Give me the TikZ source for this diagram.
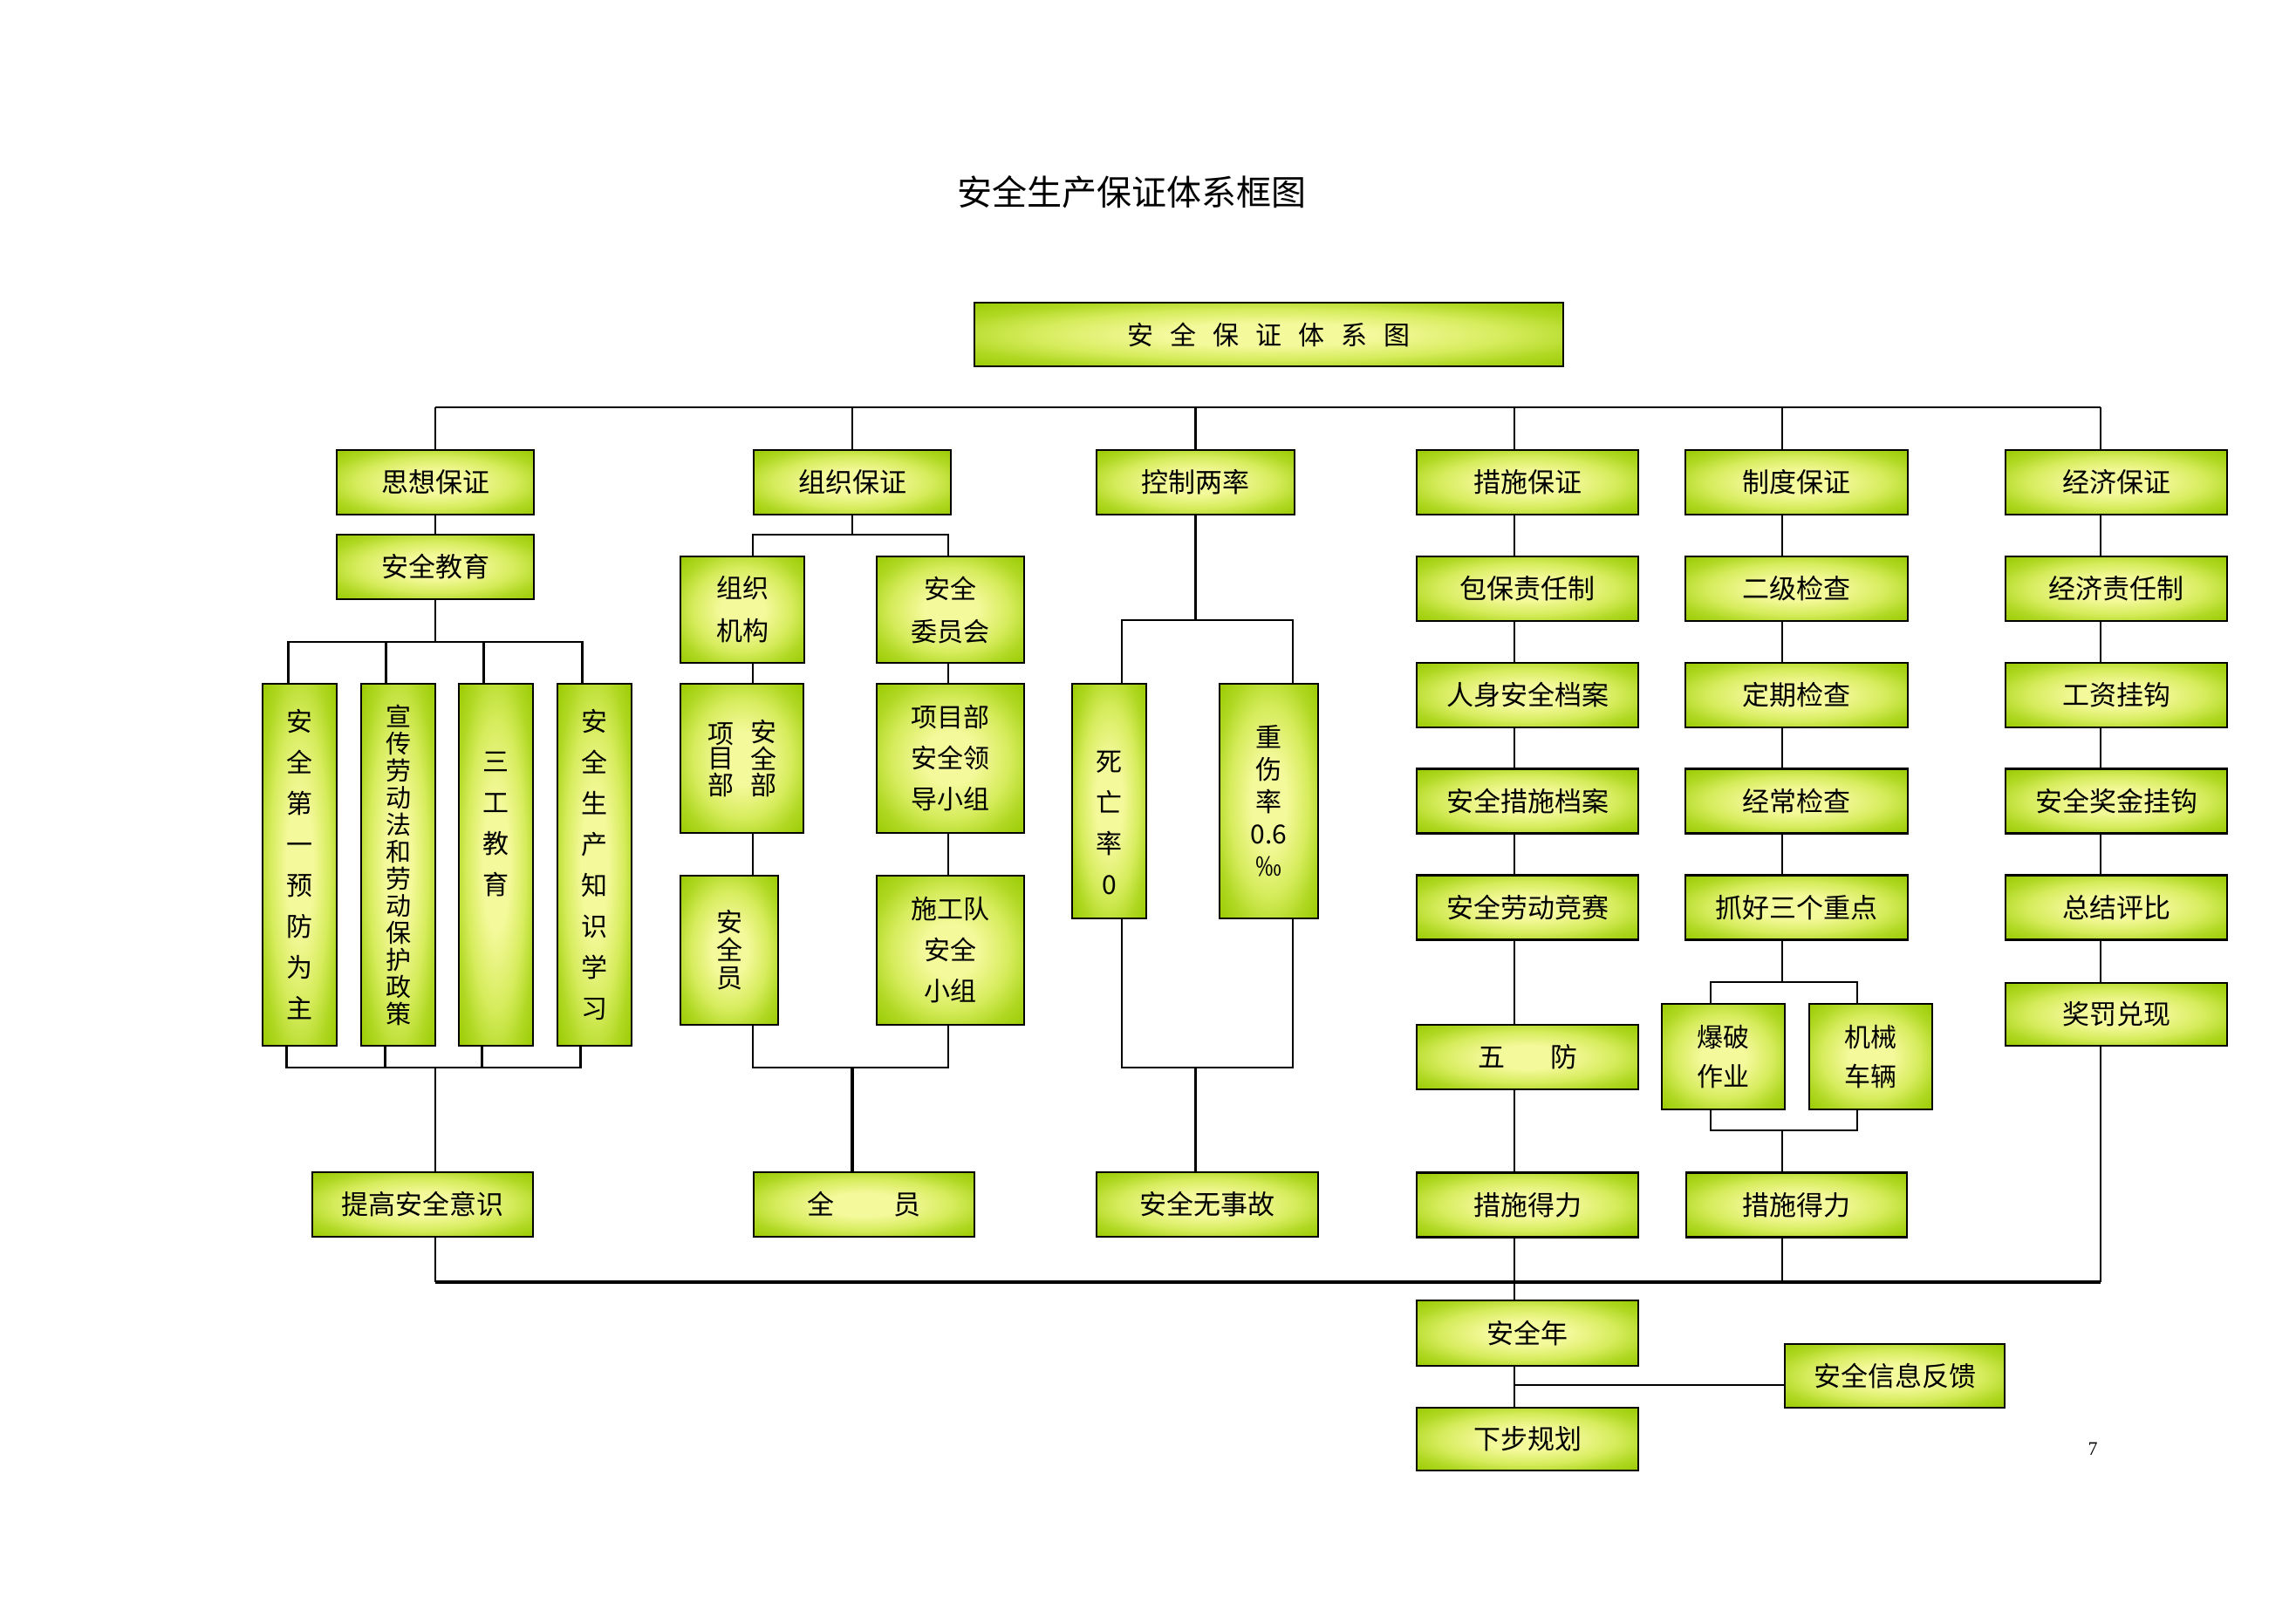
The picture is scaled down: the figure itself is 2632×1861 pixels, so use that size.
\documentclass[tikz,border=0pt]{standalone}
\usepackage{fontspec}
\setmainfont{Noto Sans CJK SC}
\newfontfamily\pnfont{Liberation Serif}
\definecolor{gIn}{RGB}{244,249,155}
\definecolor{gMidA}{RGB}{214,236,92}
\definecolor{gMidB}{RGB}{176,216,35}
\definecolor{gOut}{RGB}{152,202,0}
\pgfdeclareradialshading{gshade}{\pgfpoint{0bp}{0bp}}{color(0bp)=(gIn); color(9bp)=(gIn); color(20bp)=(gMidA); color(28bp)=(gMidB); color(36bp)=(gOut); color(50bp)=(gOut)}
\tikzset{
  gbox/.style={draw=black, line width=2.5pt, shading=gshade, inner sep=0pt, align=center,
    font=\fontsize{31pt}{38pt}\selectfont},
  rowbox/.style={gbox, minimum height=74pt},
  ln/.style={line width=2.5pt},
  lnT/.style={line width=3.5pt},
  vA/.style={font=\fontsize{30pt}{47pt}\selectfont},
  vB/.style={font=\fontsize{29pt}{31pt}\selectfont},
}
\begin{document}
\begin{tikzpicture}[x=1pt,y=-1pt]
\useasboundingbox (0,0) rectangle (2632,1861);

% title
\node[font=\fontsize{40pt}{48pt}\selectfont] (title) at (1297,220) {安全生产保证体系框图};
\node[gbox, minimum width=675pt, minimum height=73pt, font=\fontsize{30pt}{36pt}\selectfont] (top) at (1454.5,383.5) {\spaceskip=19pt\relax 安 全 保 证 体 系 图};

% level 1
\node[rowbox, minimum width=226pt] (sx) at (499,553) {思想保证};
\node[rowbox, minimum width=226pt] (zz) at (977,553) {组织保证};
\node[rowbox, minimum width=227pt] (kz) at (1370.5,553) {控制两率};
\node[rowbox, minimum width=254pt] (cs) at (1751,553) {措施保证};
\node[rowbox, minimum width=255pt] (zd) at (2059.5,553) {制度保证};
\node[rowbox, minimum width=254pt] (jj) at (2426,553) {经济保证};

% column 1
\node[rowbox, minimum width=226pt] (aqjy) at (499,650) {安全教育};
\node[gbox, vA, minimum width=85pt, minimum height=415pt] (t1) at (343.5,991.5) {安\\全\\第\\一\\预\\防\\为\\主};
\node[gbox, vB, minimum width=85pt, minimum height=415pt] (t2) at (456.5,991.5) {宣\\传\\劳\\动\\法\\和\\劳\\动\\保\\护\\政\\策};
\node[gbox, vA, minimum width=85pt, minimum height=415pt, text depth=96pt] (t3) at (568.5,991.5) {三\\工\\教\\育};
\node[gbox, vA, minimum width=85pt, minimum height=415pt] (t4) at (681.5,991.5) {安\\全\\生\\产\\知\\识\\学\\习};
\node[rowbox, minimum width=253pt] (tg) at (484.5,1381) {提高安全意识};

% column 2
\node[gbox, font=\fontsize{30pt}{49pt}\selectfont, minimum width=142pt, minimum height=122pt] (zzjg) at (851,699) {组织\\机构};
\node[gbox, font=\fontsize{30pt}{49pt}\selectfont, minimum width=169pt, minimum height=122pt] (aqwyh) at (1089.5,699) {安全\\委员会};
\node[gbox, font=\fontsize{30pt}{33pt}\selectfont, minimum width=141pt, minimum height=171pt] (xmb) at (850.5,869.5) {\shortstack{项\\目\\部}\hspace{19pt}\shortstack{安\\全\\部}};
\node[gbox, vA, minimum width=169pt, minimum height=171pt] (xmld) at (1089.5,869.5) {项目部\\安全领\\导小组};
\node[gbox, font=\fontsize{30pt}{32pt}\selectfont, minimum width=112pt, minimum height=171pt] (aqy) at (836,1089.5) {安\\全\\员};
\node[gbox, vA, minimum width=169pt, minimum height=171pt] (sgd) at (1089.5,1089.5) {施工队\\安全\\小组};
\node[rowbox, minimum width=253pt] (qy) at (990.5,1381) {全\hspace{68pt}员};

% column 3
\node[gbox, vA, minimum width=85pt, minimum height=269pt, text height=214pt] (swl) at (1271.5,918.5) {死\\亡\\率\\0};
\node[gbox, font=\fontsize{30pt}{37pt}\selectfont, minimum width=113pt, minimum height=269pt] (zsl) at (1454.5,918.5) {重\\伤\\率\\0.6\\‰};
\node[rowbox, minimum width=254pt] (aqwsg) at (1384,1381) {安全无事故};

% column 4
\node[rowbox, minimum width=254pt] (bbzr) at (1751,675) {包保责任制};
\node[rowbox, minimum width=254pt] (rsaq) at (1751,797) {人身安全档案};
\node[rowbox, minimum width=254pt] (aqcs) at (1751,918.5) {安全措施档案};
\node[rowbox, minimum width=254pt] (aqld) at (1751,1040.5) {安全劳动竞赛};
\node[rowbox, minimum width=254pt] (wf) at (1751,1212) {五\hspace{52pt}防};
\node[rowbox, minimum width=254pt] (csdl1) at (1751,1381.5) {措施得力};
\node[rowbox, minimum width=254pt, minimum height=75pt] (aqn) at (1751,1528.5) {安全年};
\node[rowbox, minimum width=254pt, minimum height=72pt] (xbgh) at (1751,1650) {下步规划};
\node[rowbox, minimum width=252pt, minimum height=73pt] (aqxx) at (2172,1577.5) {安全信息反馈};

% column 5
\node[rowbox, minimum width=255pt] (ejjc) at (2059.5,675) {二级检查};
\node[rowbox, minimum width=255pt] (dqjc) at (2059.5,797) {定期检查};
\node[rowbox, minimum width=255pt] (jcjc) at (2059.5,918.5) {经常检查};
\node[rowbox, minimum width=255pt] (zhsg) at (2059.5,1040.5) {抓好三个重点};
\node[gbox, font=\fontsize{30pt}{45pt}\selectfont, minimum width=141pt, minimum height=121pt] (bp) at (1975.5,1211.5) {爆破\\作业};
\node[gbox, font=\fontsize{30pt}{45pt}\selectfont, minimum width=141pt, minimum height=121pt] (jx) at (2144.5,1211.5) {机械\\车辆};
\node[rowbox, minimum width=253pt] (csdl2) at (2059.5,1381.5) {措施得力};

% column 6
\node[rowbox, minimum width=254pt] (jjzr) at (2426,675) {经济责任制};
\node[rowbox, minimum width=254pt] (gzgg) at (2426,797) {工资挂钩};
\node[rowbox, minimum width=254pt] (aqjj) at (2426,918.5) {安全奖金挂钩};
\node[rowbox, minimum width=254pt] (zjpb) at (2426,1040.5) {总结评比};
\node[rowbox, minimum width=254pt, minimum height=72pt] (jfdx) at (2426,1163) {奖罚兑现};

% page number
\node[font={\pnfont\fontsize{22pt}{26pt}\selectfont}] (pn) at (2399,1661) {7};

% helper coordinates
\coordinate (bT) at (0,467);
\coordinate (bB) at (0,1470);
\coordinate (b1) at (0,736);
\coordinate (b2) at (0,1224);
\coordinate (b3) at (0,613);
\coordinate (b4) at (0,711);
\coordinate (b5) at (0,1126);
\coordinate (b6) at (0,1296);
\coordinate (bF) at (0,1588);
\coordinate (c2L) at (863,0);
\coordinate (c2R) at (1087,0);
\coordinate (c3L) at (1286,0);
\coordinate (c3R) at (1482,0);
\coordinate (c4) at (1736,0);
\coordinate (c5) at (2043,0);
\coordinate (c5L) at (1961,0);
\coordinate (c5R) at (2129,0);
\coordinate (c6) at (2408,0);

% top bus
\draw[ln] (sx.north |- bT) -- (c6 |- bT);
\draw[ln] (sx.north |- bT) -- (sx.north);
\draw[ln] (zz.north |- bT) -- (zz.north);
\draw[ln] (kz.north |- bT) -- (kz.north);
\draw[ln] (c4 |- bT) -- (c4 |- cs.north);
\draw[ln] (c5 |- bT) -- (c5 |- zd.north);
\draw[ln] (c6 |- bT) -- (c6 |- jj.north);

% column 1
\draw[ln] (sx.south) -- (aqjy.north);
\draw[ln] (aqjy.south) -- (aqjy.south |- b1);
\draw[ln] ([xshift=-13pt]t1.north) |- ([xshift=-14pt]t4.north |- b1) -- ([xshift=-14pt]t4.north);
\draw[ln] ([xshift=-14pt]t2.north) -- ([xshift=-14pt]t2.north |- b1);
\draw[ln] ([xshift=-14pt]t3.north) -- ([xshift=-14pt]t3.north |- b1);
\draw[ln] ([xshift=-15pt]t1.south) |- ([xshift=-16pt]t4.south |- b2) -- ([xshift=-16pt]t4.south);
\draw[ln] ([xshift=-15pt]t2.south) -- ([xshift=-15pt]t2.south |- b2);
\draw[ln] ([xshift=-16pt]t3.south) -- ([xshift=-16pt]t3.south |- b2);
\draw[ln] (aqjy.south |- b2) -- (aqjy.south |- tg.north);
\draw[ln] (aqjy.south |- tg.south) -- (aqjy.south |- bB);

% column 2
\draw[ln] (zz.south) -- (zz.south |- b3);
\draw[ln] (c2L |- zzjg.north) |- (c2R |- b3) -- (c2R |- aqwyh.north);
\draw[ln] (c2L |- zzjg.south) -- (c2L |- xmb.north);
\draw[ln] (c2L |- xmb.south) -- (c2L |- aqy.north);
\draw[ln] (c2R |- aqwyh.south) -- (c2R |- xmld.north);
\draw[ln] (c2R |- xmld.south) -- (c2R |- sgd.north);
\draw[ln] (c2L |- aqy.south) |- (c2R |- b2) -- (c2R |- sgd.south);
\draw[lnT] (zz.south |- b2) -- (zz.south |- qy.north);

% column 3
\draw[ln] (kz.south) -- (kz.south |- b4);
\draw[ln] (c3L |- swl.north) |- (c3R |- b4) -- (c3R |- zsl.north);
\draw[ln] (c3L |- swl.south) |- (c3R |- b2) -- (c3R |- zsl.south);
\draw[lnT] (kz.south |- b2) -- (kz.south |- aqwsg.north);

% column 4
\draw[ln] (c4 |- cs.south) -- (c4 |- bbzr.north);
\draw[ln] (c4 |- bbzr.south) -- (c4 |- rsaq.north);
\draw[ln] (c4 |- rsaq.south) -- (c4 |- aqcs.north);
\draw[ln] (c4 |- aqcs.south) -- (c4 |- aqld.north);
\draw[ln] (c4 |- aqld.south) -- (c4 |- wf.north);
\draw[ln] (c4 |- wf.south) -- (c4 |- csdl1.north);
\draw[ln] (c4 |- csdl1.south) -- (c4 |- aqn.north);
\draw[ln] (c4 |- aqn.south) -- (c4 |- xbgh.north);
\draw[ln] (c4 |- bF) -- (aqxx.west |- bF);

% column 5
\draw[ln] (c5 |- zd.south) -- (c5 |- ejjc.north);
\draw[ln] (c5 |- ejjc.south) -- (c5 |- dqjc.north);
\draw[ln] (c5 |- dqjc.south) -- (c5 |- jcjc.north);
\draw[ln] (c5 |- jcjc.south) -- (c5 |- zhsg.north);
\draw[ln] (c5 |- zhsg.south) -- (c5 |- b5);
\draw[ln] (c5L |- bp.north) |- (c5R |- b5) -- (c5R |- jx.north);
\draw[ln] (c5L |- bp.south) |- (c5R |- b6) -- (c5R |- jx.south);
\draw[ln] (c5 |- b6) -- (c5 |- csdl2.north);
\draw[ln] (c5 |- csdl2.south) -- (c5 |- bB);

% column 6
\draw[ln] (c6 |- jj.south) -- (c6 |- jjzr.north);
\draw[ln] (c6 |- jjzr.south) -- (c6 |- gzgg.north);
\draw[ln] (c6 |- gzgg.south) -- (c6 |- aqjj.north);
\draw[ln] (c6 |- aqjj.south) -- (c6 |- zjpb.north);
\draw[ln] (c6 |- zjpb.south) -- (c6 |- jfdx.north);
\draw[ln] (c6 |- jfdx.south) -- (c6 |- bB);

% bottom bus
\draw[lnT] (aqjy.south |- bB) -- (c6 |- bB);
\end{tikzpicture}
\end{document}
